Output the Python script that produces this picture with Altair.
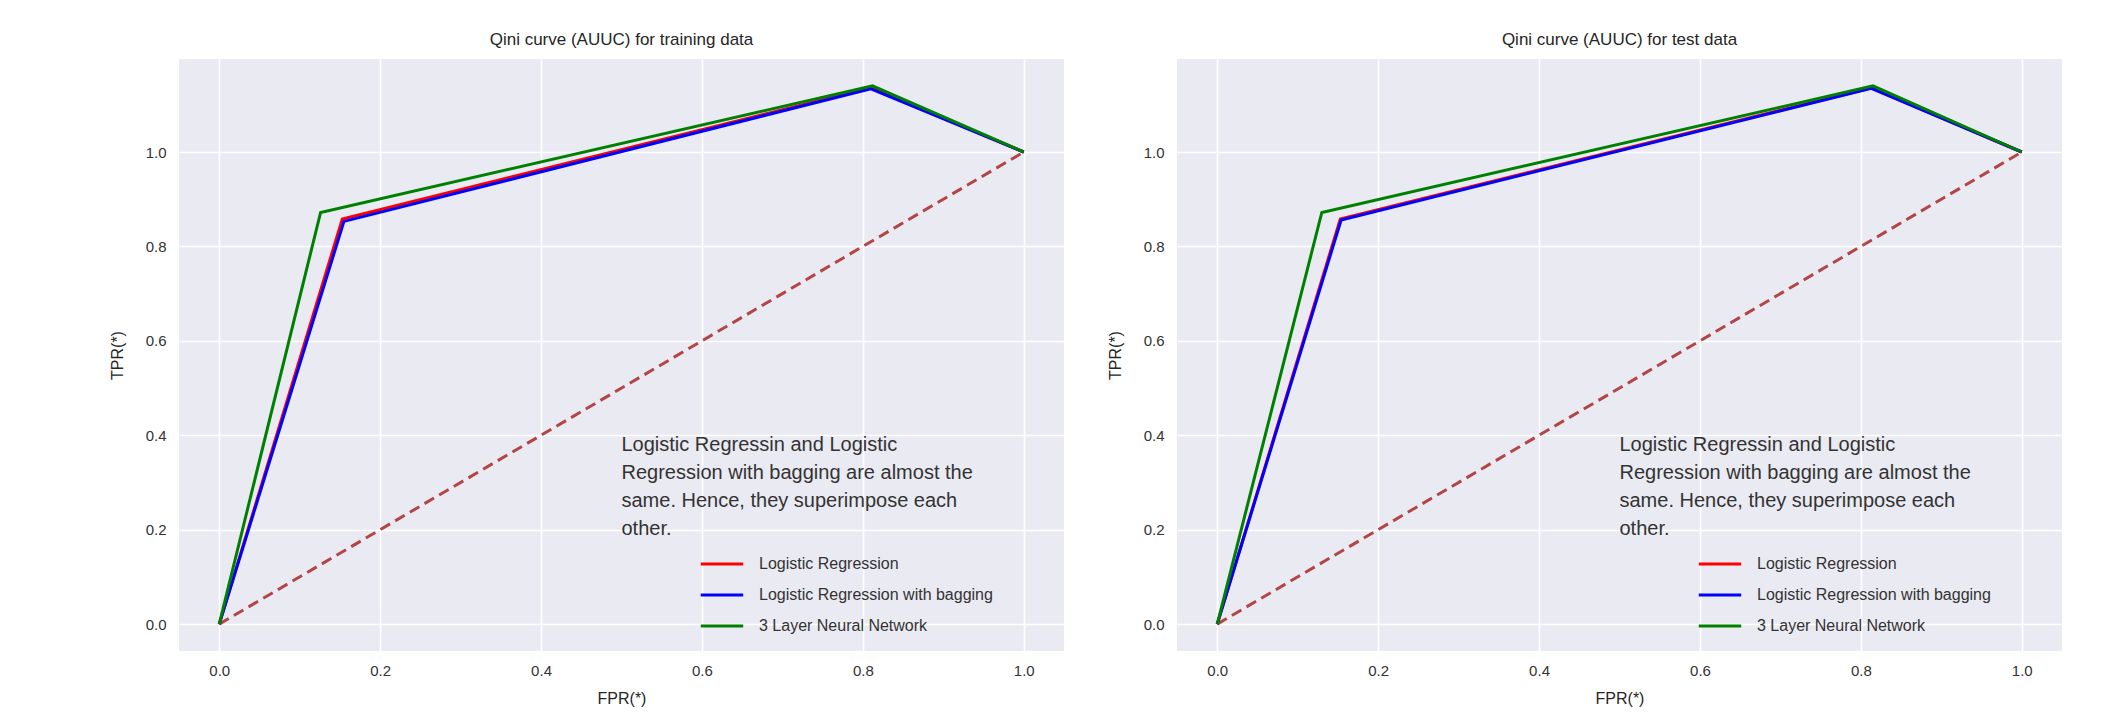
import altair as alt
import pandas as pd

series_names = ["Logistic Regression", "Logistic Regression with bagging", "3 Layer Neural Network"]
series_colors = ["#ff0000", "#0000ff", "#008000"]

# training data curves
train_fpr_lr = [0.0, 0.153, 0.810, 1.0]
train_tpr_lr = [0.0, 0.858, 1.136, 1.0]
train_fpr_bag = [0.0, 0.155, 0.810, 1.0]
train_tpr_bag = [0.0, 0.853, 1.134, 1.0]
train_fpr_nn = [0.0, 0.126, 0.812, 1.0]
train_tpr_nn = [0.0, 0.872, 1.140, 1.0]

# test data curves
test_fpr_lr = [0.0, 0.153, 0.813, 1.0]
test_tpr_lr = [0.0, 0.858, 1.136, 1.0]
test_fpr_bag = [0.0, 0.154, 0.813, 1.0]
test_tpr_bag = [0.0, 0.856, 1.135, 1.0]
test_fpr_nn = [0.0, 0.130, 0.815, 1.0]
test_tpr_nn = [0.0, 0.872, 1.140, 1.0]

diag_fpr = [0.0, 1.0]
diag_tpr = [0.0, 1.0]

tick_values = [0.0, 0.2, 0.4, 0.6, 0.8, 1.0]
note_lines = ["Logistic Regressin and Logistic",
              "Regression with bagging are almost the",
              "same. Hence, they superimpose each",
              "other."]

FONT_N = "Liberation Sans Narrow, Liberation Sans, Arial"
FONT = "Liberation Sans, Arial"


def make_df(fprs, tprs):
    rows = []
    for name, f, t in zip(series_names, fprs, tprs):
        for i, (a, b) in enumerate(zip(f, t)):
            rows.append({"fpr": a, "tpr": b, "model": name, "idx": i})
    return pd.DataFrame(rows)


def panel(fprs, tprs, title):
    df = make_df(fprs, tprs)
    xenc = alt.X("fpr:Q",
                 scale=alt.Scale(domain=[-0.05, 1.05], nice=False, zero=False),
                 axis=alt.Axis(values=tick_values, format=".1f", title="FPR(*)"))
    yenc = alt.Y("tpr:Q",
                 scale=alt.Scale(domain=[-0.057, 1.197], nice=False, zero=False),
                 axis=alt.Axis(values=tick_values, format=".1f", title="TPR(*)"))
    diag = alt.Chart(pd.DataFrame({"fpr": diag_fpr, "tpr": diag_tpr})).mark_line(
        color="#b34545", strokeWidth=3, strokeDash=[11, 6]).encode(x=xenc, y=yenc)
    color = alt.Color("model:N",
                      scale=alt.Scale(domain=series_names, range=series_colors),
                      legend=alt.Legend(title=None, orient="none", legendX=520, legendY=482,
                                        symbolType="stroke", symbolSize=1800,
                                        symbolStrokeWidth=3, labelFontSize=16,
                                        labelFont=FONT_N, labelColor="#333333",
                                        labelOffset=14, rowPadding=-1, padding=0,
                                        labelLimit=400))
    layers = [diag]
    for name in series_names:
        layers.append(alt.Chart(df).transform_filter(alt.datum.model == name).mark_line(
            strokeWidth=3).encode(x=xenc, y=yenc, color=color, order="idx:Q"))
    note = alt.Chart(pd.DataFrame({"t": [note_lines]})).mark_text(
        align="left", baseline="top", fontSize=20, lineHeight=28, font=FONT,
        color="#333333").encode(x=alt.datum(0.5), y=alt.datum(0.40), text="t")
    layers.append(note)
    return alt.layer(*layers).properties(
        width=885, height=592,
        title=alt.TitleParams(title, fontSize=17, font=FONT_N, fontWeight="normal",
                              color="#262626", offset=10))


left = panel([train_fpr_lr, train_fpr_bag, train_fpr_nn],
             [train_tpr_lr, train_tpr_bag, train_tpr_nn],
             "Qini curve (AUUC) for training data")
right = panel([test_fpr_lr, test_fpr_bag, test_fpr_nn],
              [test_tpr_lr, test_tpr_bag, test_tpr_nn],
              "Qini curve (AUUC) for test data")

chart = alt.hconcat(left, right, spacing=43).resolve_legend(color="independent").properties(
    padding={"left": 101, "top": 23, "right": 5, "bottom": 5}
).configure_view(fill="#EAEAF2", stroke=None).configure_axis(
    grid=True, gridColor="white", gridWidth=1.6, domain=False, ticks=False,
    labelFontSize=15, labelColor="#333333", labelFont=FONT_N, labelPadding=12,
    titleFontSize=16, titleFontWeight="normal", titleFont=FONT_N, titleColor="#262626"
).configure_axisY(titlePadding=20, labelPadding=13).configure_axisX(titlePadding=12)

chart.save("out.html", embed_options={"renderer": "svg", "actions": False})
